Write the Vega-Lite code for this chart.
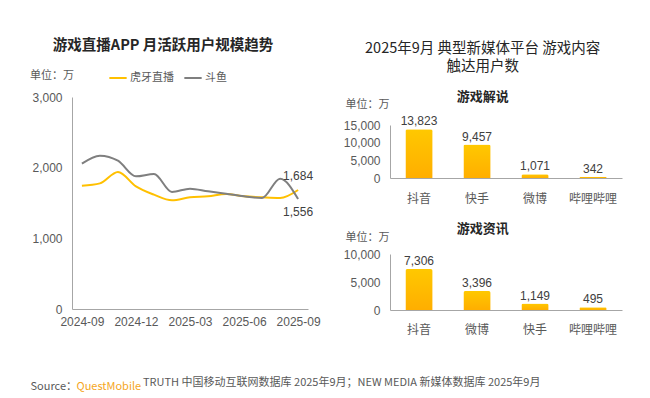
{
  "$schema": "https://vega.github.io/schema/vega-lite/v6.json",
  "background": "white",
  "padding": {"left": 30, "top": 37, "right": 20, "bottom": 4},
  "config": {
    "font": "Noto Sans CJK SC",
    "view": {"stroke": null},
    "axis": {"grid": false, "ticks": false, "domainColor": "#A6A6A6", "labelColor": "#595959", "labelFontSize": 12, "labelFont": "Liberation Sans", "titleColor": "#595959", "titleFontWeight": "normal", "titleFontSize": 11},
    "title": {"color": "#262626"}
  },
  "datasets": {
    "mau": [
      {"month": "2024-09", "app": "虎牙直播", "users": 1745},
      {"month": "2024-10", "app": "虎牙直播", "users": 1778},
      {"month": "2024-11", "app": "虎牙直播", "users": 1939},
      {"month": "2024-12", "app": "虎牙直播", "users": 1736},
      {"month": "2025-01", "app": "虎牙直播", "users": 1618},
      {"month": "2025-02", "app": "虎牙直播", "users": 1538},
      {"month": "2025-03", "app": "虎牙直播", "users": 1580},
      {"month": "2025-04", "app": "虎牙直播", "users": 1594},
      {"month": "2025-05", "app": "虎牙直播", "users": 1627},
      {"month": "2025-06", "app": "虎牙直播", "users": 1594},
      {"month": "2025-07", "app": "虎牙直播", "users": 1580},
      {"month": "2025-08", "app": "虎牙直播", "users": 1571},
      {"month": "2025-09", "app": "虎牙直播", "users": 1684},
      {"month": "2024-09", "app": "斗鱼", "users": 2057},
      {"month": "2024-10", "app": "斗鱼", "users": 2170},
      {"month": "2024-11", "app": "斗鱼", "users": 2099},
      {"month": "2024-12", "app": "斗鱼", "users": 1877},
      {"month": "2025-01", "app": "斗鱼", "users": 1910},
      {"month": "2025-02", "app": "斗鱼", "users": 1656},
      {"month": "2025-03", "app": "斗鱼", "users": 1703},
      {"month": "2025-04", "app": "斗鱼", "users": 1665},
      {"month": "2025-05", "app": "斗鱼", "users": 1632},
      {"month": "2025-06", "app": "斗鱼", "users": 1594},
      {"month": "2025-07", "app": "斗鱼", "users": 1571},
      {"month": "2025-08", "app": "斗鱼", "users": 1844},
      {"month": "2025-09", "app": "斗鱼", "users": 1556}
    ],
    "commentary": [
      {"platform": "抖音", "users": 13823},
      {"platform": "快手", "users": 9457},
      {"platform": "微博", "users": 1071},
      {"platform": "哔哩哔哩", "users": 342}
    ],
    "news": [
      {"platform": "抖音", "users": 7306},
      {"platform": "微博", "users": 3396},
      {"platform": "快手", "users": 1149},
      {"platform": "哔哩哔哩", "users": 495}
    ]
  },
  "title": {
    "text": "TRUTH 中国移动互联网数据库 2025年9月；NEW MEDIA 新媒体数据库 2025年9月",
    "orient": "bottom", "anchor": "start", "dx": 113, "fontSize": 11, "fontWeight": "normal", "color": "#595959", "offset": -14
  },
  "align": "none",
  "bounds": "full",
  "hconcat": [
    {
      "width": 236,
      "height": 184,
      "title": {"text": "游戏直播APP 月活跃用户规模趋势", "fontSize": 14.5, "fontWeight": "bold", "anchor": "middle", "frame": "bounds", "dx": -12, "offset": 38},
      "data": {"name": "mau"},
      "encoding": {
        "x": {"field": "month", "type": "ordinal", "scale": {"type": "point", "padding": 0.55},
          "axis": {"title": "Source：", "titleAngle": 0, "titleAlign": "left", "titleBaseline": "middle", "titleX": -42, "titleY": 77, "labelAngle": 0, "values": ["2024-09", "2024-12", "2025-03", "2025-06", "2025-09"], "labelPadding": 7}},
        "y": {"field": "users", "type": "quantitative", "scale": {"domain": [0, 3000], "range": [184, -28]},
          "axis": {"values": [0, 1000, 2000, 3000], "format": ",.0f", "labelPadding": 10, "title": "QuestMobile", "titleColor": "#F5A623", "titleAngle": 0, "titleAlign": "left", "titleBaseline": "middle", "titleX": 4, "titleY": 261}}
      },
      "layer": [
        {
          "mark": {"type": "line", "interpolate": "monotone", "strokeWidth": 2},
          "encoding": {
            "color": {"field": "app", "type": "nominal", "sort": ["虎牙直播", "斗鱼"],
              "scale": {"domain": ["虎牙直播", "斗鱼"], "range": ["#FFC000", "#7F7F7F"]},
              "legend": {"title": "单位：万", "titleOrient": "left", "titleFontSize": 11, "titleFontWeight": "normal", "titleColor": "#595959", "titlePadding": 34, "titleBaseline": "middle", "orient": "none", "legendX": -42, "legendY": -57, "direction": "horizontal", "symbolType": "stroke", "symbolStrokeWidth": 2, "symbolSize": 300, "labelFontSize": 11, "labelColor": "#595959", "labelOffset": 2, "columnPadding": 6}}
          }
        },
        {
          "transform": [{"filter": "datum.month === '2025-09' && datum.app === '虎牙直播'"}],
          "mark": {"type": "text", "dy": -14, "fontSize": 12, "font": "Liberation Sans", "color": "#404040"},
          "encoding": {"text": {"field": "users", "type": "quantitative", "format": ","}}
        },
        {
          "transform": [{"filter": "datum.month === '2025-09' && datum.app === '斗鱼'"}],
          "mark": {"type": "text", "dy": 13, "fontSize": 12, "font": "Liberation Sans", "color": "#404040"},
          "encoding": {"text": {"field": "users", "type": "quantitative", "format": ","}}
        }
      ]
    },
    {
      "title": {"text": ["2025年9月 典型新媒体平台 游戏内容", "触达用户数"], "fontSize": 14.5, "fontWeight": "normal", "anchor": "middle", "lineHeight": 18, "offset": 17},
      "spacing": 19,
      "align": "none",
      "vconcat": [
        {
          "width": 232,
          "height": 53,
          "title": {"text": "游戏解说", "fontSize": 13, "fontWeight": "bold", "frame": "bounds", "offset": -6},
          "data": {"name": "commentary"},
          "encoding": {
            "x": {"field": "platform", "type": "nominal", "sort": null, "scale": {"paddingInner": 0.53, "paddingOuter": 0.265},
              "axis": {"title": null, "labelAngle": 0, "labelPadding": 15, "labelFont": "Noto Sans CJK SC"}},
            "y": {"field": "users", "type": "quantitative", "scale": {"domain": [0, 15000]},
              "axis": {"values": [0, 5000, 10000, 15000], "format": ",.0f", "labelPadding": 10, "title": "单位：万", "titleAngle": 0, "titleAlign": "left", "titleBaseline": "middle", "titleX": -45, "titleY": -21}}
          },
          "layer": [
            {
              "mark": {"type": "bar", "cornerRadiusTopLeft": 2, "cornerRadiusTopRight": 2,
                "fill": {"x1": 0, "y1": 0, "x2": 0, "y2": 1, "gradient": "linear", "stops": [{"offset": 0, "color": "#FFC800"}, {"offset": 1, "color": "#FFAE00"}]}}
            },
            {
              "mark": {"type": "text", "dy": -8, "fontSize": 12, "font": "Liberation Sans", "color": "#404040"},
              "encoding": {"text": {"field": "users", "type": "quantitative", "format": ","}}
            }
          ]
        },
        {
          "width": 232,
          "height": 56,
          "title": {"text": "游戏资讯", "fontSize": 13, "fontWeight": "bold", "frame": "bounds", "offset": -5},
          "data": {"name": "news"},
          "encoding": {
            "x": {"field": "platform", "type": "nominal", "sort": null, "scale": {"paddingInner": 0.53, "paddingOuter": 0.265},
              "axis": {"title": null, "labelAngle": 0, "labelPadding": 14, "labelFont": "Noto Sans CJK SC"}},
            "y": {"field": "users", "type": "quantitative", "scale": {"domain": [0, 10000]},
              "axis": {"values": [0, 5000, 10000], "format": ",.0f", "labelPadding": 10, "title": "单位：万", "titleAngle": 0, "titleAlign": "left", "titleBaseline": "middle", "titleX": -45, "titleY": -17}}
          },
          "layer": [
            {
              "mark": {"type": "bar", "cornerRadiusTopLeft": 2, "cornerRadiusTopRight": 2,
                "fill": {"x1": 0, "y1": 0, "x2": 0, "y2": 1, "gradient": "linear", "stops": [{"offset": 0, "color": "#FFC800"}, {"offset": 1, "color": "#FFAE00"}]}}
            },
            {
              "mark": {"type": "text", "dy": -8, "fontSize": 12, "font": "Liberation Sans", "color": "#404040"},
              "encoding": {"text": {"field": "users", "type": "quantitative", "format": ","}}
            }
          ]
        }
      ]
    }
  ],
  "spacing": 22
}
